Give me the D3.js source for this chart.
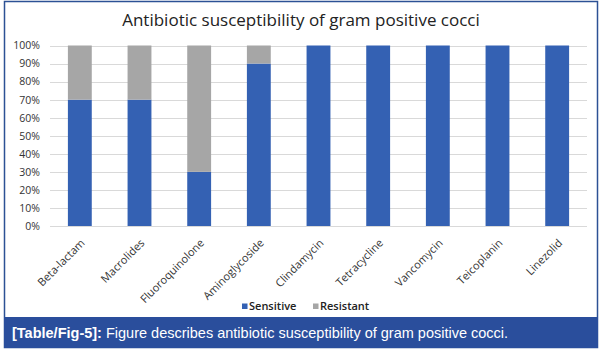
<!DOCTYPE html>
<html>
<head>
<meta charset="utf-8">
<script src="https://cdn.jsdelivr.net/npm/d3@7"></script>
<style>
  body { margin: 0; background: #fff; }
  svg { display: block; }
</style>
</head>
<body>
<svg id="chart" width="601" height="351"></svg>
<script>
// Chart data
const categories = ["Beta-lactam", "Macrolides", "Fluoroquinolone", "Aminoglycoside",
  "Clindamycin", "Tetracycline", "Vancomycin", "Teicoplanin", "Linezolid"];
const sensitive = [70, 70, 30, 90, 100, 100, 100, 100, 100];
const resistant = [30, 30, 70, 10, 0, 0, 0, 0, 0];
const seriesNames = ["Sensitive", "Resistant"];
const yTicks = [0, 10, 20, 30, 40, 50, 60, 70, 80, 90, 100];

const colors = { Sensitive: "#3461b3", Resistant: "#a6a6a6" };
const svg = d3.select("#chart");
const W = 601, H = 351;

// Frame and caption bar
svg.append("rect")
  .attr("x", 4.5).attr("y", 1.5).attr("width", 593).attr("height", 346)
  .attr("fill", "#fff").attr("stroke", "#2c5195").attr("stroke-width", 1.5);

svg.append("rect")
  .attr("x", 4).attr("y", 317).attr("width", 594).attr("height", 31)
  .attr("fill", "#2a4e9c");

const cap = svg.append("text")
  .attr("x", 12).attr("y", 338)
  .attr("font-family", "Liberation Sans, Arial, sans-serif")
  .attr("font-size", 14.5).attr("fill", "#fff");
cap.append("tspan").attr("font-weight", "bold").text("[Table/Fig-5]:");
cap.append("tspan").text(" Figure describes antibiotic susceptibility of gram positive cocci.");

// Title
svg.append("text")
  .attr("x", 301).attr("y", 26)
  .attr("text-anchor", "middle")
  .attr("font-family", "Open Sans, sans-serif")
  .attr("font-size", 17).attr("fill", "#222")
  .text("Antibiotic susceptibility of gram positive cocci");

// Scales
const margin = { left: 50, right: 14 };
const x = d3.scaleBand().domain(categories)
  .range([margin.left, W - margin.right]).paddingInner(0.6).paddingOuter(0.3);
const y = d3.scaleLinear().domain([0, 100]).range([226, 45.5]);

// Gridlines
svg.append("g")
  .selectAll("line").data(yTicks).join("line")
  .attr("x1", margin.left).attr("x2", W - margin.right)
  .attr("y1", d => Math.round(y(d)) + 0.5).attr("y2", d => Math.round(y(d)) + 0.5)
  .attr("stroke", "#d9d9d9").attr("stroke-width", 1);

// Stacked bars
const rows = categories.map((c, i) => ({ cat: c, Sensitive: sensitive[i], Resistant: resistant[i] }));
const stacked = d3.stack().keys(seriesNames)(rows);

svg.append("g").selectAll("g").data(stacked).join("g")
  .attr("fill", d => colors[d.key])
  .selectAll("rect").data(d => d).join("rect")
  .attr("x", d => x(d.data.cat))
  .attr("width", x.bandwidth())
  .attr("y", d => y(d[1]))
  .attr("height", d => y(d[0]) - y(d[1]));

// Y axis
const yAxis = svg.append("g")
  .attr("transform", `translate(${margin.left - 10},0)`)
  .call(d3.axisLeft(y).tickValues(yTicks).tickFormat(d => d + "%").tickSize(0).tickPadding(0));
yAxis.select(".domain").remove();
yAxis.selectAll("text")
  .attr("font-family", "Open Sans, sans-serif").attr("font-size", 10.5).attr("fill", "#333");

// X axis
const xAxis = svg.append("g")
  .attr("transform", `translate(0,${y(0)})`)
  .call(d3.axisBottom(x).tickSize(0));
xAxis.select(".domain").remove();
xAxis.selectAll("text")
  .attr("font-family", "Open Sans, sans-serif").attr("font-size", 11).attr("fill", "#333")
  .attr("text-anchor", "end")
  .attr("y", 0).attr("dy", "0.35em")
  .attr("transform", "translate(3,15) rotate(-45)");

// Legend
const legend = svg.append("g")
  .selectAll("g").data(seriesNames).join("g")
  .attr("transform", (d, i) => `translate(${242 + i * 71},310)`);
legend.append("rect")
  .attr("x", 0).attr("y", -6.5).attr("width", 5.5).attr("height", 5.5)
  .attr("fill", d => colors[d]);
legend.append("text")
  .attr("x", 7).attr("y", 0)
  .attr("font-family", "Open Sans, sans-serif").attr("font-size", 11)
  .attr("font-weight", 600).attr("fill", "#222")
  .text(d => d);
</script>
</body>
</html>
